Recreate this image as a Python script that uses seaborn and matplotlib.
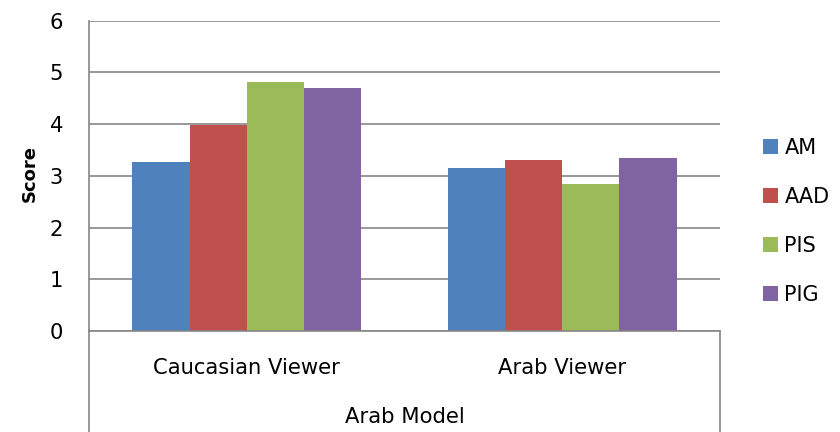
import matplotlib
matplotlib.use("Agg")
import matplotlib.pyplot as plt
import matplotlib.transforms as mtransforms
import pandas as pd
import seaborn as sns

# Mean scores per viewer group for the Arab model
viewers = ["Caucasian Viewer", "Arab Viewer"]
measures = ["AM", "AAD", "PIS", "PIG"]
am = [3.26, 3.15]
aad = [3.98, 3.31]
pis = [4.81, 2.85]
pig = [4.70, 3.35]
group_label = "Arab Model"
y_ticks = [0, 1, 2, 3, 4, 5, 6]

palette = ["#4F81BD", "#C0504D", "#9BBB59", "#8064A2"]
grey = "#868686"
fs = 15.2

df = pd.DataFrame({
    "Viewer": viewers * len(measures),
    "Measure": [m for m in measures for _ in viewers],
    "Score": am + aad + pis + pig,
})

sns.set_theme(style="white")
plt.rcParams["font.family"] = ["DejaVu Sans"]
plt.rcParams["text.color"] = "black"
plt.rcParams["axes.labelcolor"] = "black"

W, H = 840, 432
fig = plt.figure(figsize=(W / 100, H / 100), dpi=100)
ax = fig.add_axes([89 / W, 101 / H, 631 / W, 310.3 / H])

sns.barplot(
    data=df, x="Viewer", y="Score", hue="Measure",
    order=viewers, hue_order=measures, palette=palette,
    width=0.725, saturation=1, linewidth=0, errorbar=None, ax=ax,
)

ax.set_xlim(-0.5, 1.5)
ax.set_ylim(0, 6)
ax.set_yticks(y_ticks)
ax.set_axisbelow(True)
ax.yaxis.grid(True, color=grey, linewidth=1.2)
ax.xaxis.grid(False)
for side in ("top", "right"):
    ax.spines[side].set_visible(False)
for side in ("left", "bottom"):
    ax.spines[side].set_color(grey)
    ax.spines[side].set_linewidth(1.2)

ax.tick_params(axis="y", length=0, pad=18.5, labelsize=fs, labelcolor="black")
ax.set_xticks(range(len(viewers)), viewers)
ax.tick_params(axis="x", length=0, pad=19.5, labelsize=fs, labelcolor="black")
ax.set_xlabel("")

ax.set_ylabel("Score", fontsize=13, fontweight="bold", color="black")
ax.yaxis.set_label_coords(-0.08, 0.5076)

# Multi-level category axis: outer label and side dividers below the plot
blend = mtransforms.blended_transform_factory(ax.transData, fig.transFigure)
bottom = ax.get_position().y0
for xv in (-0.5, 1.5):
    ax.plot([xv, xv], [0, bottom], transform=blend, color=grey,
            linewidth=1.2, clip_on=False)
ax.text(0.5, (H - 423.3) / H, group_label, transform=blend,
        ha="center", va="baseline", fontsize=fs, color="black")

handles, labels = ax.get_legend_handles_labels()
leg = ax.legend(handles, labels, loc="center left",
                bbox_to_anchor=(762.7 / W, 0.488), bbox_transform=fig.transFigure,
                frameon=False, fontsize=15, handlelength=0.72, handleheight=0.72,
                handletextpad=0.32, labelspacing=1.39, borderpad=0, borderaxespad=0)
for t in leg.get_texts():
    t.set_color("black")

fig.savefig("out.png", dpi=100)
